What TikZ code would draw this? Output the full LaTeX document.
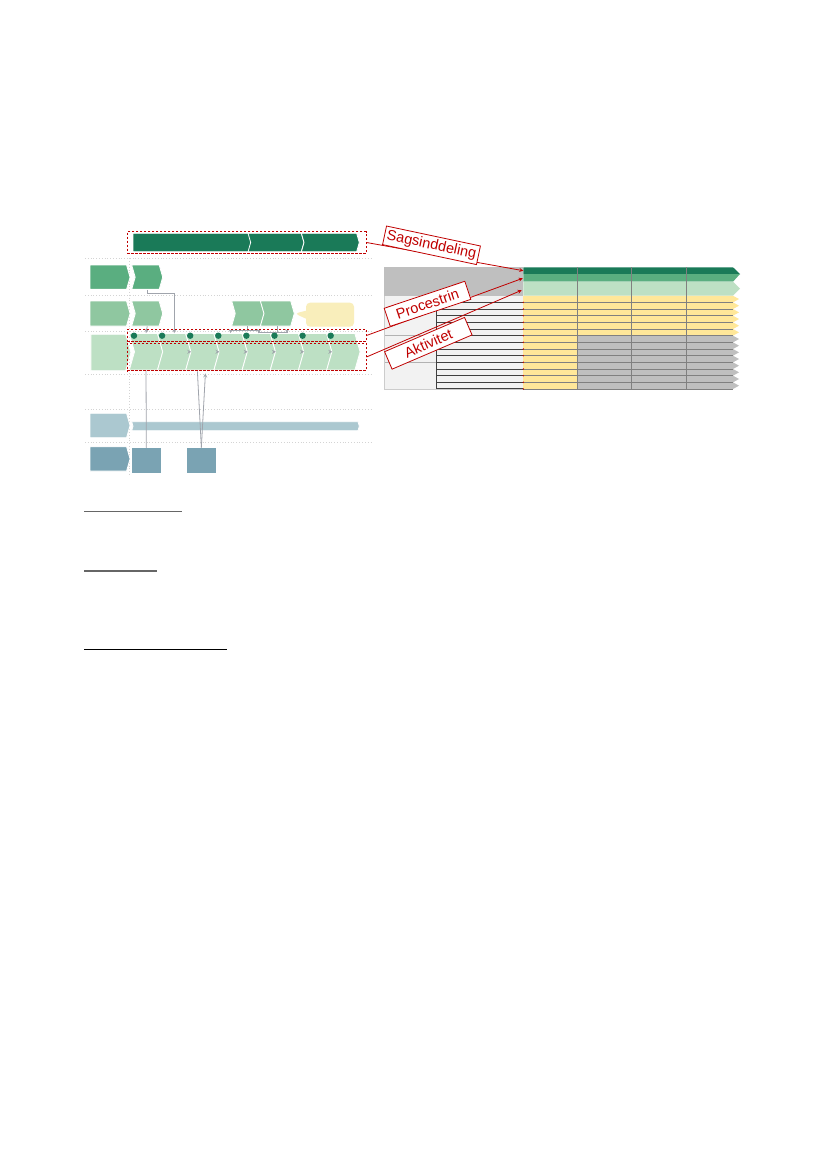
\documentclass[tikz,border=0pt]{standalone}
\usepackage{fontspec}
\setmainfont{Liberation Sans}
\usetikzlibrary{shapes.symbols,shapes.callouts,calc}
\definecolor{sagdark}{HTML}{1A7A58}
\definecolor{stepmid}{HTML}{5AAE80}
\definecolor{steplight}{HTML}{8FC7A0}
\definecolor{actpale}{HTML}{BDE0C4}
\definecolor{lanelight}{HTML}{ABC8D0}
\definecolor{lanedark}{HTML}{7AA3B3}
\definecolor{notefill}{HTML}{F9EEBB}
\definecolor{markred}{HTML}{C00000}
\definecolor{cellyellow}{HTML}{FFE799}
\definecolor{cellgrey}{HTML}{BFBFBF}
\definecolor{gridgrey}{HTML}{D4D4D4}
\definecolor{connline}{HTML}{A0A4AC}
\tikzset{
  chev/.style={shape=signal, signal from=west, signal to=east, signal pointer angle=148,
    inner sep=0pt, draw=white, line width=0.8pt},
  headchev/.style={shape=signal, signal to=east, signal pointer angle=148,
    inner sep=0pt, draw=white, line width=0.8pt},
  markbox/.style={draw=markred, dash pattern=on 2.5pt off 1.5pt, line width=1pt, inner sep=0pt},
  marklabel/.style={draw=markred, fill=white, text=markred, line width=0.8pt,
    font=\fontsize{14.5}{16}\selectfont, inner sep=0pt, minimum height=19pt},
  markline/.style={draw=markred, line width=0.8pt},
  conn/.style={draw=connline, line width=0.8pt},
  gridline/.style={draw=gridgrey, dotted, line width=0.8pt},
  tabline/.style={draw=black!75, line width=1pt},
  tabgrey/.style={draw=black!50, line width=0.8pt},
}
\begin{document}
\begin{tikzpicture}[x=1pt, y=-1pt, >=stealth]
  \useasboundingbox[fill=white] (0,0) rectangle (827,1169);
  \foreach \y in {258.3,295,331.7,374.3,409.3,442.7}
    \draw[gridline] (85,\y) -- (372,\y);
  \draw[gridline] (129.3,258.3) -- (129.3,476);

  \node[headchev, fill=stepmid,   minimum width=40pt, minimum height=24.3pt] (l1) at (108.3,277.2) {};
  \node[headchev, fill=steplight, minimum width=40pt, minimum height=25pt]   (l2) at (108.3,313.5) {};
  \node[headchev, fill=actpale,   minimum width=40pt, minimum height=36.4pt] (l3) at (108.3,352.5) {};
  \node[headchev, fill=lanelight, minimum width=40pt, minimum height=24.4pt] (l5) at (108.3,425.5) {};
  \node[headchev, fill=lanedark,  minimum width=40pt, minimum height=24.3pt] (l6) at (108.3,458.9) {};

  \node[headchev, fill=sagdark, minimum width=119pt,  minimum height=18.4pt] (t1) at (191.2,242.5) {};
  \node[chev,     fill=sagdark, minimum width=55.9pt, minimum height=18.4pt] (t2) at (276,242.5) {};
  \node[chev,     fill=sagdark, minimum width=57.9pt, minimum height=18.4pt] (t3) at (330.35,242.5) {};

  \node[chev, fill=stepmid, minimum width=31pt, minimum height=24.3pt] (r1c) at (147.2,277.2) {};

  \node[chev, fill=steplight, minimum width=31pt,   minimum height=25pt] (r2a) at (147.2,313.5) {};
  \node[chev, fill=steplight, minimum width=32.3pt, minimum height=25pt] (r2b) at (247.85,313.5) {};
  \node[chev, fill=steplight, minimum width=33.9pt, minimum height=25pt] (r2c) at (277.35,313.5) {};
  \node[rectangle callout, fill=notefill, rounded corners=4pt, minimum width=48pt, minimum height=24pt,
    callout absolute pointer={(r2c.east)}, callout pointer width=8pt] (note) at (330,314.7) {};

  \foreach \i in {1,...,8}
    \node[chev, fill=actpale, minimum width=33.4pt, minimum height=36.5pt] (f\i) at ({146+28.2*(\i-1)},351.8) {};

  \node[chev, fill=lanelight, minimum width=227.6pt, minimum height=9pt] (bar) at (245.5,426.2) {};
  \node[fill=lanedark, minimum width=29.3pt, minimum height=25pt, inner sep=0pt] (s1) at (146.35,460.2) {};
  \node[fill=lanedark, minimum width=29.3pt, minimum height=25pt, inner sep=0pt] (s2) at (201.35,460.2) {};

  \draw[conn,->] (r1c.south) -- ++(0,4) -| (f2.north);
  \draw[conn,->] (r2a.south) -- (f1.north);
  \draw[conn,->] (r2b.south) -- ++(0,4) -| (f4.north);
  \draw[conn,->] (r2b.south) -- ++(0,4) -| (f5.north);
  \draw[conn,->] (r2c.south) -- ++(0,6) -| (f5.north);
  \draw[conn,->] (r2c.south) -- ++(0,6) -| (f6.north);
  \draw[conn] (f1.south) -- (s1.north);
  \draw[conn] (s2.north) -- ($(f3.south)+(-5,1)$);
  \draw[conn,->] (s2.north) -- ($(f3.south)+(3,3)$);
  \foreach \i in {2,...,7}
    \draw[conn,->] ($(f\i.east)+(-2.5,0)$) -- (f\i.east);

  \foreach \i in {1,...,8}
    \node[circle, fill=sagdark, minimum size=6.4pt, inner sep=0pt] (d\i) at ({134+28.1*(\i-1)},335.7) {};

  \node[markbox, minimum width=238.7pt, minimum height=21.6pt] (sagbox) at (246.65,242.5) {};
  \node[markbox, minimum width=238.7pt, minimum height=12.4pt] (dotbox) at (246.65,335.5) {};
  \node[markbox, minimum width=238.7pt, minimum height=27.4pt] (aktbox) at (246.65,357) {};

  \fill[cellgrey] (384,267.3) rectangle (523.3,295.7);
  \fill[black!5] (384,295.7) rectangle (523.3,389);
  \foreach \k in {0,...,13}{
    \pgfmathsetmacro\ya{295.7+6.664*\k}
    \pgfmathsetmacro\yb{\ya+6.664}
    \pgfmathsetmacro\ym{\ya+3.332}
    \ifnum\k<6 \def\cellcol{cellyellow}\else\def\cellcol{cellgrey}\fi
    \fill[\cellcol] (523.3,\ya) -- (733,\ya) -- (739,\ym) -- (733,\yb) -- (523.3,\yb) -- cycle;
    \fill[cellyellow] (523.3,\ya) rectangle (577.5,\yb);
  }
  \foreach \k in {1,...,14}{
    \pgfmathsetmacro\yb{295.7+6.664*\k}
    \draw[tabgrey] (523.3,\yb) -- (733,\yb);
    \draw[tabline] (436.7,\yb) -- (523.3,\yb);
  }
  \foreach \y in {309,335.7,362.3}
    \draw[draw=black!30, line width=0.8pt] (384,\y) -- (436.7,\y);
  \draw[draw=black!20, line width=1pt] (384.5,295.7) -- (384.5,389) -- (523.3,389);
  \draw[tabline] (436.7,302.4) -- (436.7,389);
  \fill[sagdark] (523.3,267.3) -- (733,267.3) -- (740,274) -- (523.3,274) -- cycle;
  \fill[stepmid] (523.3,274) -- (740,274) -- (733,281.7) -- (523.3,281.7) -- cycle;
  \fill[actpale] (523.3,281.7) -- (733,281.7) -- (740,288.7) -- (733,295.7) -- (523.3,295.7) -- cycle;
  \foreach \x in {577.5,631.7,686.7}
    \draw[tabgrey] (\x,267.3) -- (\x,389);
  \foreach \k in {1,...,14}
    \fill[markred] (523.3,{295.7+6.664*\k}) circle (0.8);
  \coordinate (bandsag) at (523.3,270.7);
  \coordinate (bandstep) at (522.7,278.3);
  \coordinate (bandakt) at (521.7,290.2);

  \draw[markline,->] (sagbox.east) -- (bandsag);
  \draw[markline,->] (dotbox.east) -- (bandstep);
  \draw[markline,->] (aktbox.east) -- (bandakt);
  \node[marklabel, minimum width=96pt, rotate=-12]  (saglabel)  at (431.5,245.3) {Sagsinddeling};
  \node[marklabel, minimum width=85pt, rotate=18.5] (steplabel) at (427.5,303.8) {Procestrin};
  \node[marklabel, minimum width=87pt, rotate=23.2] (aktlabel)  at (428.3,343.3) {Aktivitet};

  \draw[black!60, line width=1.3pt] (84,511.7) -- (181.7,511.7);
  \draw[black!60, line width=1.3pt] (84,571) -- (157.3,571);
  \draw[black, line width=1.3pt] (84,649.3) -- (226.7,649.3);
\end{tikzpicture}
\end{document}
